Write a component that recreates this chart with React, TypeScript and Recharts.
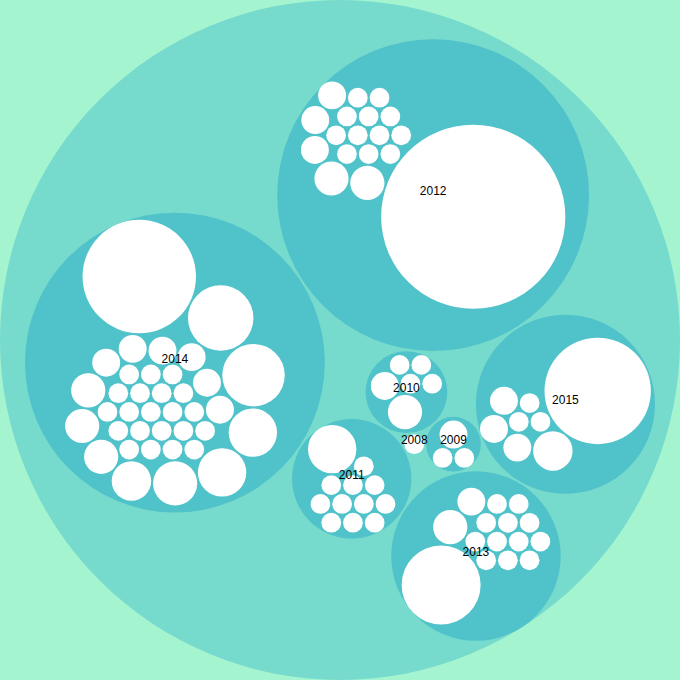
import React from 'react';
import { ScatterChart, Scatter, XAxis, YAxis, ZAxis } from 'recharts';

// Top-level groups (years) and their leaf values
const years = ['2008', '2009', '2010', '2011', '2012', '2013', '2014', '2015'];

const leaves2008 = [1];
const leaves2009 = [1, 1, 2];
const leaves2010 = [1, 1, 1, 1, 2, 3];
const leaves2011 = [1, 1, 1, 1, 1, 1, 1, 1, 1, 1, 1, 6];
const leaves2012 = [1, 1, 1, 1, 1, 1, 1, 1, 1, 1, 1, 1, 2, 2, 2, 3, 3, 87];
const leaves2013 = [1, 1, 1, 1, 1, 1, 1, 1, 1, 1, 1, 1, 2, 3, 16];
const leaves2014 = [
  1, 1, 1, 1, 1, 1, 1, 1, 1, 1, 1, 1, 1, 1, 1, 1, 1, 1, 1, 1, 1,
  2, 2, 2, 2, 2, 2, 3, 3, 3, 4, 5, 6, 6, 10, 11, 33,
];
const leaves2015 = [1, 1, 1, 2, 2, 2, 4, 29];

const leafValues = [leaves2008, leaves2009, leaves2010, leaves2011, leaves2012, leaves2013, leaves2014, leaves2015];

const W = 680;
const H = 680;
const PADDING = 2;

const BG = '#a4f4d0';
const ROOT_FILL = '#76dacd';
const YEAR_FILL = '#50c2ca';
const LEAF_FILL = '#ffffff';

interface PNode {
  name: string;
  value: number;
  depth: number;
  children?: PNode[];
  x: number;
  y: number;
  r: number;
  _next?: PNode;
  _prev?: PNode;
}

function packPlace(a: PNode, b: PNode, c: PNode) {
  let db = a.r + c.r;
  const dx = b.x - a.x;
  const dy = b.y - a.y;
  if (db && (dx || dy)) {
    let da = b.r + c.r;
    const dc = dx * dx + dy * dy;
    da *= da;
    db *= db;
    const x = 0.5 + (db - da) / (2 * dc);
    const t = 2 * da * (db + dc);
    const d2 = db - dc;
    const y = Math.sqrt(Math.max(0, t - d2 * d2 - da * da)) / (2 * dc);
    c.x = a.x + x * dx + y * dy;
    c.y = a.y + x * dy - y * dx;
  } else {
    c.x = a.x + db;
    c.y = a.y;
  }
}

function packIntersects(a: PNode, b: PNode) {
  const dx = b.x - a.x;
  const dy = b.y - a.y;
  const dr = a.r + b.r;
  return 0.999 * dr * dr > dx * dx + dy * dy;
}

function packInsert(a: PNode, b: PNode) {
  const c = a._next as PNode;
  a._next = b;
  b._prev = a;
  b._next = c;
  c._prev = b;
}

function packSplice(a: PNode, b: PNode) {
  a._next = b;
  b._prev = a;
}

function packSiblings(node: PNode) {
  const nodes = node.children;
  if (!nodes || !nodes.length) return;
  const n = nodes.length;
  let xMin = Infinity, xMax = -Infinity, yMin = Infinity, yMax = -Infinity;
  const bound = (d: PNode) => {
    xMin = Math.min(d.x - d.r, xMin);
    xMax = Math.max(d.x + d.r, xMax);
    yMin = Math.min(d.y - d.r, yMin);
    yMax = Math.max(d.y + d.r, yMax);
  };
  nodes.forEach((d) => { d._next = d; d._prev = d; });
  let a = nodes[0];
  a.x = -a.r;
  a.y = 0;
  bound(a);
  if (n > 1) {
    let b = nodes[1];
    b.x = b.r;
    b.y = 0;
    bound(b);
    if (n > 2) {
      let c = nodes[2];
      packPlace(a, b, c);
      bound(c);
      packInsert(a, c);
      a._prev = c;
      packInsert(c, b);
      b = a._next as PNode;
      for (let i = 3; i < n; i++) {
        c = nodes[i];
        packPlace(a, b, c);
        let isect = 0, s1 = 1, s2 = 1;
        let j: PNode = b._next as PNode;
        for (; j !== b; j = j._next as PNode, s1++) {
          if (packIntersects(j, c)) { isect = 1; break; }
        }
        let k: PNode = a._prev as PNode;
        if (isect === 1) {
          for (; k !== j._prev; k = k._prev as PNode, s2++) {
            if (packIntersects(k, c)) break;
          }
        }
        if (isect) {
          if (s1 < s2 || (s1 === s2 && b.r < a.r)) { b = j; packSplice(a, b); }
          else { a = k; packSplice(a, b); }
          i--;
        } else {
          packInsert(a, c);
          b = c;
          bound(c);
        }
      }
    }
  }
  const cx = (xMin + xMax) / 2;
  const cy = (yMin + yMax) / 2;
  let cr = 0;
  for (let i = 0; i < n; i++) {
    const c = nodes[i];
    c.x -= cx;
    c.y -= cy;
    cr = Math.max(cr, c.r + Math.sqrt(c.x * c.x + c.y * c.y));
  }
  node.r = cr;
  nodes.forEach((d) => { d._next = undefined; d._prev = undefined; });
}

function visitAfter(node: PNode, fn: (d: PNode) => void) {
  if (node.children) node.children.forEach((c) => visitAfter(c, fn));
  fn(node);
}

function transform(node: PNode, x: number, y: number, k: number) {
  node.x = x += k * node.x;
  node.y = y += k * node.y;
  node.r *= k;
  if (node.children) node.children.forEach((c) => transform(c, x, y, k));
}

function buildLayout() {
  const yearNodes: PNode[] = years.map((name, i) => {
    const kids: PNode[] = leafValues[i].map((v, j) => ({
      name: `${name}-${j}`, value: v, depth: 2, x: 0, y: 0, r: 0,
    }));
    const value = kids.reduce((s, d) => s + d.value, 0);
    kids.sort((p, q) => p.value - q.value);
    return { name, value, depth: 1, children: kids, x: 0, y: 0, r: 0 };
  });
  const total = yearNodes.reduce((s, d) => s + d.value, 0);
  const sortedYears = yearNodes.slice().sort((p, q) => p.value - q.value);
  const root: PNode = { name: 'root', value: total, depth: 0, children: sortedYears, x: 0, y: 0, r: 0 };

  visitAfter(root, (d) => { d.r = Math.sqrt(d.value); });
  visitAfter(root, packSiblings);
  const dr = (PADDING * Math.max((2 * root.r) / W, (2 * root.r) / H)) / 2;
  visitAfter(root, (d) => { d.r += dr; });
  visitAfter(root, packSiblings);
  visitAfter(root, (d) => { d.r -= dr; });
  const k = 1 / Math.max((2 * root.r) / W, (2 * root.r) / H);
  root.x = 0;
  root.y = 0;
  transform(root, W / 2, H / 2, k);
  return { root, yearNodes };
}

const { root, yearNodes } = buildLayout();
const toPoint = (d: PNode) => ({ name: d.name, x: d.x, y: d.y, z: Math.PI * d.r * d.r });

const rootData = [toPoint(root)];
const yearData = yearNodes.filter((d) => (d.children || []).length > 1).map(toPoint);
const leafData = yearNodes.flatMap((d) => (d.children || []).map(toPoint));
const labelData = yearNodes.map(toPoint);

const circleShape = (fill: string) => (p: any) => {
  const r = p.size != null ? Math.sqrt(Math.max(p.size, 0) / Math.PI) : (p.width || 0) / 2;
  return <circle cx={p.cx} cy={p.cy} r={r} fill={fill} />;
};

const labelShape = (p: any) => (
  <text
    x={p.cx}
    y={p.cy}
    textAnchor="middle"
    fontSize={12}
    fontFamily="'Liberation Sans', Arial, sans-serif"
    fill="#000000"
  >
    {p.payload.name}
  </text>
);

export default function App() {
  return (
    <div style={{ position: 'absolute', left: 0, top: 0, width: W, height: H, background: BG }}>
      <ScatterChart width={W} height={H} margin={{ top: 0, right: 0, bottom: 0, left: 0 }}>
        <XAxis type="number" dataKey="x" domain={[0, W]} hide />
        <YAxis type="number" dataKey="y" domain={[0, H]} reversed hide />
        <ZAxis type="number" dataKey="z" domain={[0, 400000]} range={[0, 400000]} />
        <Scatter data={rootData} shape={circleShape(ROOT_FILL)} isAnimationActive={false} />
        <Scatter data={yearData} shape={circleShape(YEAR_FILL)} isAnimationActive={false} />
        <Scatter data={leafData} shape={circleShape(LEAF_FILL)} isAnimationActive={false} />
        <Scatter data={labelData} shape={labelShape} isAnimationActive={false} />
      </ScatterChart>
    </div>
  );
}
